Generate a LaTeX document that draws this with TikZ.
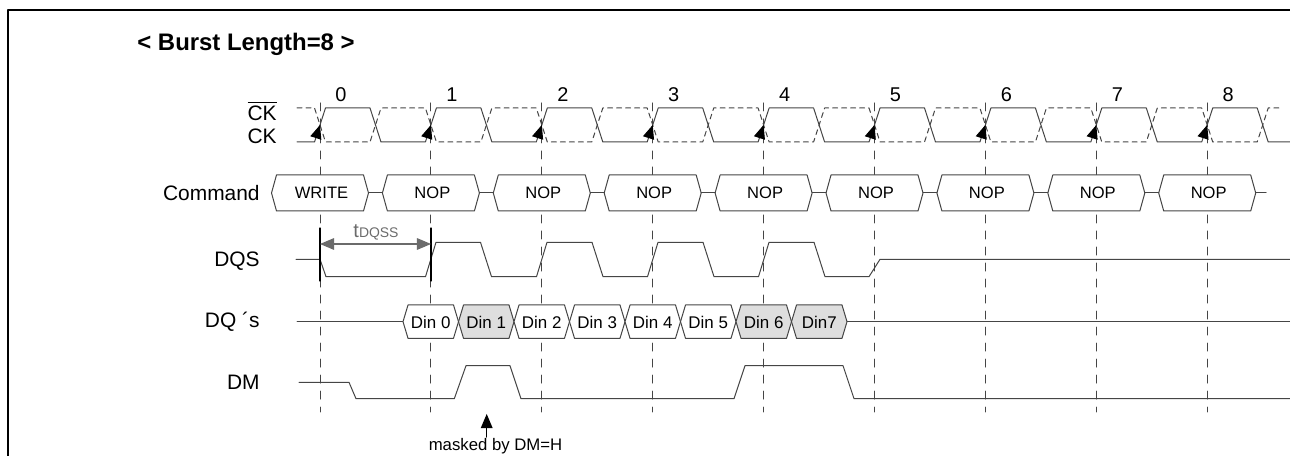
\documentclass[tikz,border=0pt]{standalone}
\usepackage{fontspec}
\setmainfont{Liberation Sans}
\usetikzlibrary{calc}
\usetikzlibrary{arrows}
\definecolor{uuuuuu}{rgb}{0.27,0.27,0.27}
\definecolor{wwwwww}{rgb}{0.42,0.42,0.42}
\definecolor{dcdcdc}{rgb}{0.87,0.87,0.87}
\tikzset{
  sig/.style={line width=0.5bp,color=uuuuuu},
  clkline/.style={line width=0.5bp,color=uuuuuu,dash pattern=on 4bp off 4bp},
  rowlabel/.style={anchor=east,inner sep=0pt,font=\fontsize{10.5}{12}\selectfont},
  boxtext/.style={inner sep=0pt,font=\fontsize{8.3}{10}\selectfont},
  dintext/.style={inner sep=0pt,font=\fontsize{8.5}{10}\selectfont}
}
\begin{document}
\begin{tikzpicture}[line cap=round,line join=round,>=triangle 45,x=0.5bp,y=-0.5bp]
\useasboundingbox (0,0) rectangle (1290,456);
\clip (0,0) rectangle (1290,456);
\draw [line width=1bp] (8,460) -- (8,10) -- (1295,10);
\node [anchor=west,inner sep=0pt,font=\bfseries\fontsize{12}{14}\selectfont] (title) at (137,44) {< Burst Length=8 >};
% row labels
\node [rowlabel] (lckb) at (277,111) {$\overline{\mbox{CK}}$};
\node [rowlabel] (lck) at (277,136) {CK};
\node [rowlabel] (lcmd) at (260,193) {Command};
\node [rowlabel] (ldqs) at (260,261) {DQS};
\node [rowlabel] (ldq) at (260,322) {DQ ´s};
\node [rowlabel] (ldm) at (260,382) {DM};
% clock edges
\foreach \i in {0,...,8}
{
\draw [clkline] ({320+110.9*\i},103) -- ({320+110.9*\i},412);
\node [inner sep=0pt,font=\fontsize{10}{11}\selectfont] (n\i) at ({341+110.9*\i},95) {\i};
}
\draw [sig] (297,142) foreach \i in {0,...,8} { -- ({314.5+110.9*\i},142) -- ({325.5+110.9*\i},108) -- ({370+110.9*\i},108) -- ({381+110.9*\i},142) } -- (1292,142);
\draw [sig,dash pattern=on 2.5bp off 2bp] (297,108) foreach \i in {0,...,8} { -- ({314.5+110.9*\i},108) -- ({325.5+110.9*\i},142) -- ({370+110.9*\i},142) -- ({381+110.9*\i},108) } -- (1282,108);
\foreach \i in {0,...,8}
\draw [->,line width=0.55bp] ({318+110.9*\i},131.2) -- ({320+110.9*\i},125);
% command
\foreach \i/\t in {0/WRITE,1/NOP,2/NOP,3/NOP,4/NOP,5/NOP,6/NOP,7/NOP,8/NOP}
{
\pgfmathsetmacro\c{320+110.9*\i}
\draw [sig,fill=white] (\c-48.5,193) -- (\c-43.5,175) -- (\c+43.5,175) -- (\c+48.5,193) -- (\c+43.5,211) -- (\c-43.5,211) -- cycle;
\node [boxtext] (cmd\i) at (\c+1.5,193) {\t};
}
\foreach \i in {0,...,7}
\draw [sig] ({368.5+110.9*\i},193) -- ({382.4+110.9*\i},193);
\draw [sig] (1256,193) -- (1266,193);
% DQS
\draw [sig] (296,259.3) -- (320,259.3) -- (326,276.7) -- (425.5,276.7) -- (436,242.3) -- (480.5,242.3) -- (491.5,276.7) -- (536.5,276.7) -- (547,242.3) -- (592,242.3) -- (603,276.7) -- (647.5,276.7) -- (658,242.3) -- (703,242.3) -- (714,276.7) -- (758.5,276.7) -- (769,242.3) -- (814,242.3) -- (825,276.7) -- (869,276.7) -- (880,259.3) -- (1292,259.3);
\draw [line width=0.6bp] (320,228) -- (320,281);
\draw [line width=0.6bp] (431,228) -- (431,281);
\coordinate (q0) at (320,244);
\coordinate (q1) at (431,244);
\draw [<->,line width=0.6bp,color=wwwwww] (q0) -- (q1);
\node [inner sep=0pt,color=wwwwww,font=\fontsize{10}{11}\selectfont] (tdqss) at (376,232) {t{\fontsize{7}{8}\selectfont DQSS}};
% DQ
\draw [sig] (297,321.7) -- (403,321.7);
\foreach \i/\t/\f in {0/Din 0/white,1/Din 1/dcdcdc,2/Din 2/white,3/Din 3/white,4/Din 4/white,5/Din 5/white,6/Din 6/dcdcdc,7/Din7/dcdcdc}
{
\pgfmathsetmacro\s{403+55.5*\i}
\draw [sig,fill=\f] (\s,321.7) -- (\s+5,305) -- (\s+50.5,305) -- (\s+55.5,321.7) -- (\s+50.5,338.3) -- (\s+5,338.3) -- cycle;
\node [dintext] (din\i) at (\s+27.75,322) {\t};
}
\draw [sig] (847,321.7) -- (1292,321.7);
% DM
\draw [sig] (299,382.3) -- (349,382.3) -- (356,398.7) -- (454.3,398.7) -- (466,365.7) -- (510,365.7) -- (521,398.7) -- (734,398.7) -- (745,365.7) -- (843,365.7) -- (854,398.7) -- (1292,398.7);
\node [inner sep=0pt,font=\fontsize{8.4}{10}\selectfont] (mask) at (495.5,446) {masked by DM=H};
\coordinate (mtip) at (486.7,414);
\coordinate (mbase) at (486.7,437);
\draw [->,line width=0.6bp] (mbase) -- (mtip);
\end{tikzpicture}
\end{document}
